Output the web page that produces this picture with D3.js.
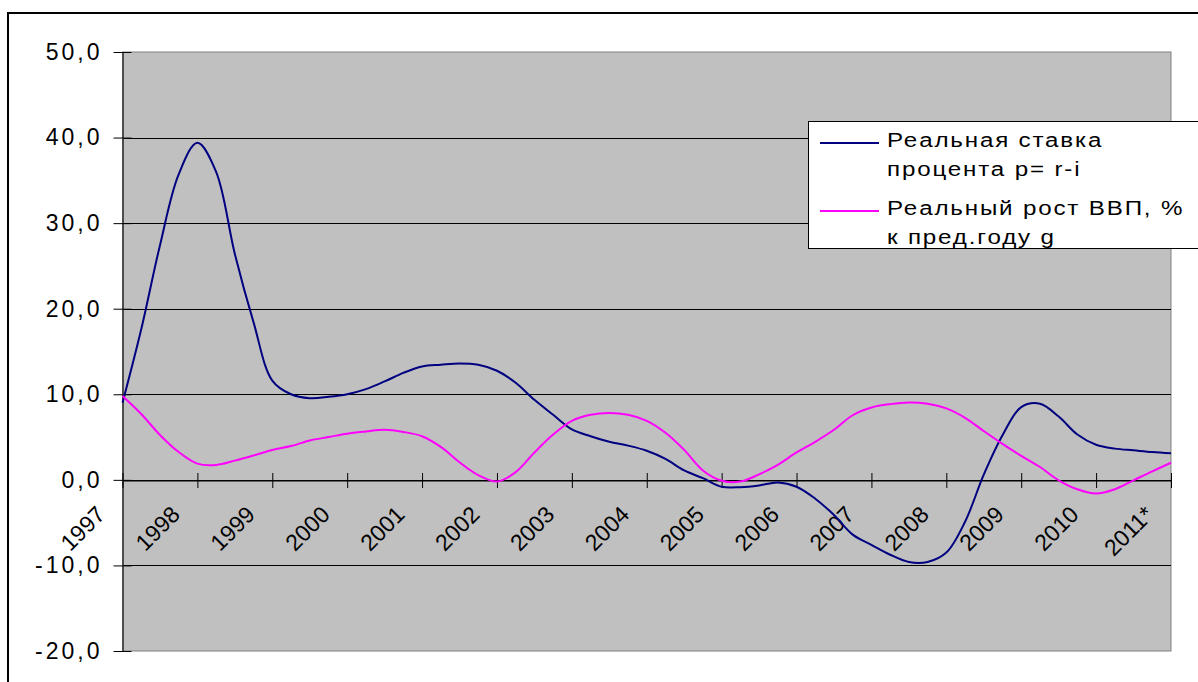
<!DOCTYPE html>
<html>
<head>
<meta charset="utf-8">
<script src="https://cdn.jsdelivr.net/npm/d3@7"></script>
<style>
  body { margin: 0; background: #fff; }
  svg { display: block; font-family: "Liberation Sans", Arial, sans-serif; }
</style>
</head>
<body>
<svg id="chart" width="1198" height="682"></svg>
<script>
// Year labels on the category axis
const years = ["1997", "1998", "1999", "2000", "2001", "2002", "2003", "2004",
               "2005", "2006", "2007", "2008", "2009", "2010", "2011*"];

// Value axis ticks, %
const yTicks = [-20, -10, 0, 10, 20, 30, 40, 50];

// Quarterly readings from 1997 to 2011 (index / 4 = years since 1997)
const realRate = [
  9.0, 17.6, 27.4, 35.7, 39.4, 36.0, 26.4, 18.4, 11.6, 10.0, 9.55, 9.7, 10.0, 10.6, 11.5,
  12.5, 13.25, 13.45, 13.6, 13.45, 12.75, 11.35, 9.35, 7.6, 5.9, 5.1, 4.45, 4.0,
  3.4, 2.45, 1.1, 0.2, -0.8, -0.85, -0.65, -0.3, -0.8, -2.2, -4.1, -6.4, -7.6, -8.75,
  -9.6, -9.6, -8.5, -4.9, 0.6, 5.2, 8.5, 8.9, 7.4, 5.3, 4.1, 3.65, 3.45, 3.25, 3.1
];
const gdpGrowth = [
  9.8, 7.7, 5.25, 3.25, 1.9, 1.75, 2.25, 2.85, 3.5, 3.95, 4.6, 5.0, 5.4, 5.65, 5.85,
  5.6, 5.1, 3.85, 2.05, 0.55, -0.2, 0.9, 3.2, 5.3, 6.9, 7.6, 7.8, 7.6,
  6.9, 5.5, 3.5, 1.1, -0.1, -0.2, 0.65, 1.75, 3.2, 4.45, 5.85, 7.55, 8.45, 8.85,
  9.05, 8.9, 8.35, 7.25, 5.7, 4.2, 2.8, 1.5, -0.05, -1.1, -1.6, -1.1, -0.05, 1.0, 2.0
];

const seriesLabels = [
  ["Реальная ставка", "процента p= r-i"],
  ["Реальный рост ВВП, %", "к пред.году g"]
];
const seriesColors = ["#000080", "#ff00ff"];

const svg = d3.select("#chart");
const plot = { left: 122.5, right: 1171, top: 52, bottom: 651 };

const x = d3.scaleLinear().domain([0, years.length - 1]).range([plot.left, plot.right]);
const y = d3.scaleLinear().domain([-20, 50]).range([plot.bottom, plot.top]);

const fmt = d3.formatLocale({ decimal: ",", thousands: " ", grouping: [3], currency: ["", ""], minus: "-" }).format(".1f");

// Outer chart frame
svg.append("rect")
  .attr("x", 8).attr("y", 13)
  .attr("width", 1300).attr("height", 800)
  .attr("fill", "none").attr("stroke", "#000").attr("stroke-width", 2);

// Plot area
svg.append("rect")
  .attr("x", plot.left).attr("y", plot.top)
  .attr("width", plot.right - plot.left).attr("height", plot.bottom - plot.top)
  .attr("fill", "#c0c0c0").attr("stroke", "#808080").attr("stroke-width", 1);

// Horizontal gridlines
svg.append("g")
  .selectAll("line")
  .data(yTicks.filter(v => v > -20 && v < 50))
  .join("line")
  .attr("x1", plot.left).attr("x2", plot.right)
  .attr("y1", d => Math.round(y(d)) + 0.5).attr("y2", d => Math.round(y(d)) + 0.5)
  .attr("stroke", "#000").attr("stroke-width", 1);

// Value axis
const yAxis = svg.append("g")
  .attr("transform", `translate(${plot.left},0)`)
  .call(d3.axisLeft(y).tickValues(yTicks).tickFormat(fmt).tickSizeInner(9).tickSizeOuter(0).tickPadding(11));
yAxis.select(".domain").attr("stroke", "#4d4d4d").attr("stroke-width", 2);
yAxis.selectAll(".tick line").attr("x1", 9).attr("stroke", "#000");
yAxis.selectAll(".tick text")
  .attr("fill", "#000")
  .style("font-size", "23px")
  .style("letter-spacing", "3px")
  .style("font-family", "'Liberation Sans', Arial, sans-serif");

// Category axis along zero
const xAxis = svg.append("g")
  .attr("transform", `translate(0,${Math.round(y(0)) + 0.5})`)
  .call(d3.axisBottom(x).tickValues(d3.range(years.length)).tickFormat("").tickSizeInner(7.5).tickSizeOuter(0));
xAxis.select(".domain").attr("stroke", "#000");
xAxis.selectAll(".tick line").attr("y1", -7.5).attr("stroke", "#000");

// Rotated year labels
svg.append("g")
  .selectAll("text")
  .data(years)
  .join("text")
  .attr("transform", (d, i) => `translate(${x(i) - 16},516) rotate(-45)`)
  .attr("text-anchor", "end")
  .style("font-size", "23px")
  .attr("fill", "#000")
  .text(d => d);

// Series lines
const line = d3.line()
  .x((d, i) => x(i / 4))
  .y(d => y(d))
  .curve(d3.curveCatmullRom.alpha(0.5));

[realRate, gdpGrowth].forEach((values, k) => {
  svg.append("path")
    .datum(values)
    .attr("d", line)
    .attr("fill", "none")
    .attr("stroke", seriesColors[k])
    .attr("stroke-width", 2)
    .attr("stroke-linejoin", "round");
});

// Legend
const legend = svg.append("g").attr("transform", "translate(808,121)");
legend.append("rect")
  .attr("x", 0.5).attr("y", 0.5)
  .attr("width", 420).attr("height", 127)
  .attr("fill", "#fff").attr("stroke", "#000").attr("stroke-width", 1);

const entryTop = [0, 68];
seriesLabels.forEach((lines, k) => {
  const g = legend.append("g").attr("transform", `translate(0,${entryTop[k]})`);
  g.append("line")
    .attr("x1", 12).attr("x2", 71)
    .attr("y1", 22).attr("y2", 22)
    .attr("stroke", seriesColors[k]).attr("stroke-width", 2);
  g.selectAll("text")
    .data(lines)
    .join("text")
    .attr("transform", (d, j) => `translate(79,${26 + j * 29}) scale(1.15,1)`)
    .style("font-size", "21px")
    .style("letter-spacing", "1.6px")
    .attr("fill", "#000")
    .text(d => d);
});
</script>
</body>
</html>
